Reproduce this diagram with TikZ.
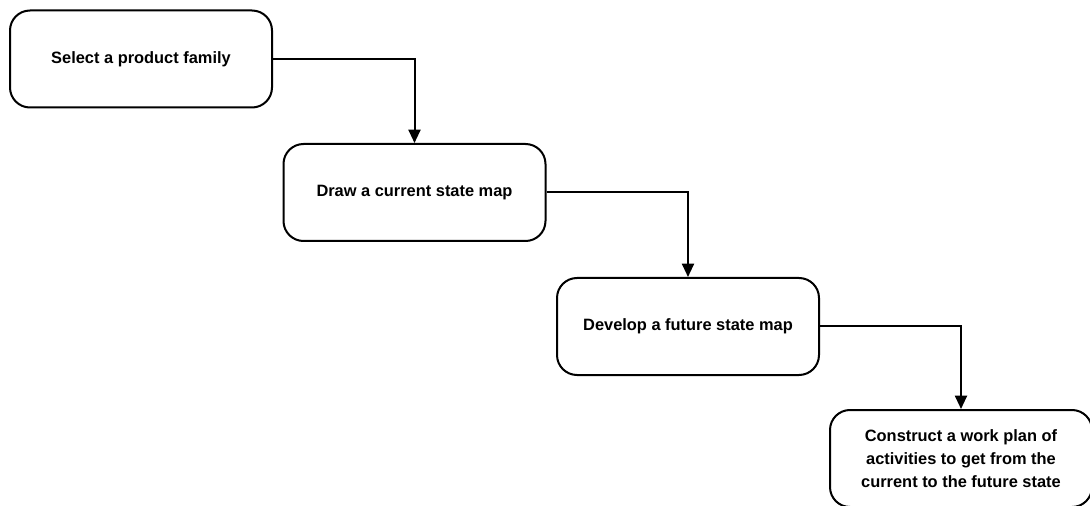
\documentclass[tikz,border=0pt]{standalone}
\usepackage{fontspec}
\setmainfont{Liberation Sans}
\usetikzlibrary{arrows.meta}
\begin{document}
\begin{tikzpicture}[x=0.75pt,y=-0.75pt,
  stepbox/.style={draw=black, line width=1.5pt, rounded corners=15pt,
    minimum width=196.5pt, minimum height=72.75pt, align=center,
    font=\bfseries\fontsize{12.3}{17.3}\selectfont, inner sep=0pt, fill=white},
  flow/.style={draw=black, line width=1.5pt, -{Triangle[length=10pt,width=9pt]}}]
  \useasboundingbox (0,0) rectangle (1090,506);
  \begin{scope}
    \clip (0,0) rectangle (1090,506);
    \node[stepbox] (b1) at (141,59) {Select a product family};
    \node[stepbox] (b2) at (414.5,192.5) {Draw a current state map};
    \node[stepbox] (b3) at (688,326.5) {Develop a future state map};
    \node[stepbox] (b4) at (961,458.5) {Construct a work plan of\\activities to get from the\\current to the future state};
    \draw[flow] (b1.east) -| (b2.north);
    \draw[flow] (b2.east) -| (b3.north);
    \draw[flow] (b3.east) -| (b4.north);
  \end{scope}
\end{tikzpicture}
\end{document}
